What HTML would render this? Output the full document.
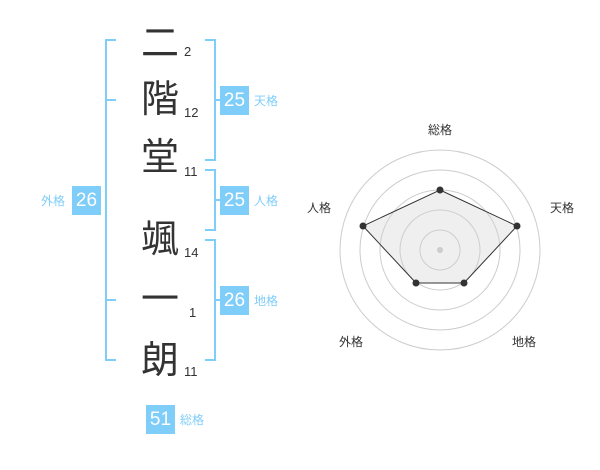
<!DOCTYPE html>
<html><head><meta charset="utf-8"><style>
body{margin:0;width:600px;height:470px;background:#fff;position:relative;overflow:hidden;font-family:"Liberation Sans","Noto Sans CJK JP",sans-serif}
.k{position:absolute;left:140px;width:40px;text-align:center;font-size:38px;line-height:40px;color:#333}
.n{position:absolute;left:184px;font-size:13px;color:#333;line-height:14px}
.b{position:absolute;width:29px;height:29px;background:#7fcdf9;color:#fff;font-size:19px;line-height:29px;text-align:center}
.l{position:absolute;font-size:12px;color:#7fcdf9;line-height:14px}
.r{position:absolute;font-size:12px;color:#333;line-height:14px}
</style></head><body>
<svg width="600" height="470" style="position:absolute;left:0;top:0">
<g stroke="#7fcdf9" stroke-width="2" fill="none">
<path d="M116 40H106V360H116M106 100H116M106 300H116"/>
<path d="M205 40H215V160H205M215 100H220"/>
<path d="M205 170H215V230H205M215 200H220"/>
<path d="M205 240H215V360H205M215 300H220"/>
</g>
<g fill="none" stroke="#ccc" stroke-width="1">
<circle cx="440" cy="250" r="20"/><circle cx="440" cy="250" r="40"/><circle cx="440" cy="250" r="60"/><circle cx="440" cy="250" r="80"/><circle cx="440" cy="250" r="100"/>
</g>
<polygon points="440,190 517,226 464,283 416,283 363,226" fill="rgba(210,210,210,0.35)" stroke="#333" stroke-width="1"/>
<circle cx="440" cy="250" r="3" fill="#ccc"/>
<g fill="#333"><circle cx="440" cy="190" r="3.5"/><circle cx="517" cy="226" r="3.5"/><circle cx="464" cy="283" r="3.5"/><circle cx="416" cy="283" r="3.5"/><circle cx="363" cy="226" r="3.5"/></g>
</svg>
<div class="k" style="top:24px">二</div><div class="n" style="top:45px">2</div>
<div class="k" style="top:80px">階</div><div class="n" style="top:106px">12</div>
<div class="k" style="top:138px">堂</div><div class="n" style="top:165px">11</div>
<div class="k" style="top:220px">颯</div><div class="n" style="top:246px">14</div>
<div class="k" style="top:280px">一</div><div class="n" style="top:306px;left:189px">1</div>
<div class="k" style="top:341px">朗</div><div class="n" style="top:365px">11</div>
<div class="b" style="left:220px;top:86px">25</div><div class="l" style="left:254px;top:94px">天格</div>
<div class="b" style="left:220px;top:186px">25</div><div class="l" style="left:254px;top:194px">人格</div>
<div class="b" style="left:220px;top:286px">26</div><div class="l" style="left:254px;top:294px">地格</div>
<div class="b" style="left:72px;top:186px">26</div><div class="l" style="left:41px;top:194px">外格</div>
<div class="b" style="left:146px;top:405px">51</div><div class="l" style="left:180px;top:413px">総格</div>
<div class="r" style="left:428px;top:123px">総格</div>
<div class="r" style="left:550px;top:201px">天格</div>
<div class="r" style="left:307px;top:201px">人格</div>
<div class="r" style="left:339px;top:335px">外格</div>
<div class="r" style="left:512px;top:335px">地格</div>
</body></html>
